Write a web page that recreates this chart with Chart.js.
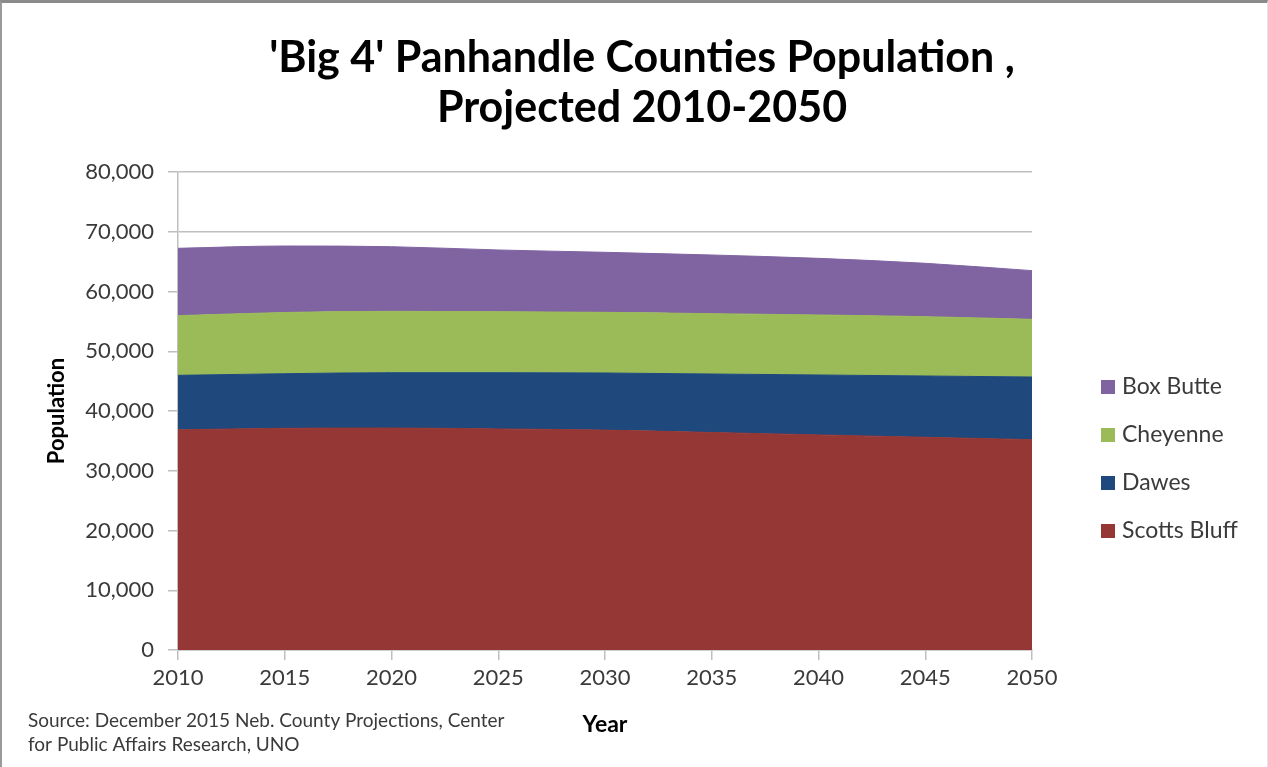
<!DOCTYPE html>
<html>
<head>
<meta charset="utf-8">
<script src="https://cdn.jsdelivr.net/npm/chart.js@4.4.1/dist/chart.umd.min.js"></script>
<style>
  html, body { margin: 0; padding: 0; background: #fff; }
  #frame {
    position: relative;
    width: 1268px;
    height: 767px;
    box-sizing: border-box;
    border-top: 3px solid #8a8a8a;
    border-left: 2px solid #9a9a9a;
    border-right: 1px solid #e4e4e4;
    overflow: hidden;
  }
  #popChart { position: absolute; left: -2px; top: -3px; }
</style>
</head>
<body>
<div id="frame">
  <canvas id="popChart" width="1268" height="767"></canvas>
</div>
<script>
// Projected population by county, 5-year steps
const years = ['2010', '2015', '2020', '2025', '2030', '2035', '2040', '2045', '2050'];
const scottsBluff = [36850, 37100, 37150, 37000, 36800, 36400, 36000, 35600, 35200];
const dawes = [9120, 9140, 9260, 9410, 9560, 9790, 10030, 10260, 10490];
const cheyenne = [9980, 10250, 10270, 10210, 10150, 10100, 10040, 9930, 9650];
const boxButte = [11280, 11125, 10820, 10330, 10050, 9820, 9480, 8930, 8150];

const titleLines = ["'Big 4' Panhandle Counties Population ,", 'Projected 2010-2050'];
const sourceLines = ['Source: December 2015 Neb. County Projections, Center', 'for Public Affairs Research, UNO'];

const FONT = 'Lato, "Open Sans", sans-serif';
const TEXT = '#3a3a3a';

const makeLayer = (label, data, color, fill) => ({
  label,
  data,
  backgroundColor: color,
  borderColor: color,
  borderWidth: 1,
  pointRadius: 0,
  fill,
  tension: 0.35,
  cubicInterpolationMode: 'monotone'
});

// title centred across the whole canvas (not just the plot)
const pageTitle = {
  id: 'pageTitle',
  afterDraw(chart) {
    const ctx = chart.ctx;
    ctx.save();
    ctx.font = 'bold 43px ' + FONT;
    ctx.fillStyle = '#000';
    ctx.textAlign = 'center';
    ctx.textBaseline = 'middle';
    titleLines.forEach((t, i) => ctx.fillText(t, 642, 58 + i * 50));
    ctx.restore();
  }
};

// legend on the right, top layer first
const sideLegend = {
  id: 'sideLegend',
  afterDraw(chart) {
    const ctx = chart.ctx;
    const items = chart.data.datasets.slice().reverse();
    ctx.save();
    ctx.font = '23px ' + FONT;
    ctx.textBaseline = 'middle';
    ctx.textAlign = 'left';
    items.forEach((ds, i) => {
      const y = 387 + i * 48;
      ctx.fillStyle = ds.backgroundColor;
      ctx.fillRect(1101, y - 7, 14, 14);
      ctx.fillStyle = TEXT;
      ctx.fillText(ds.label, 1122, y);
    });
    ctx.restore();
  }
};

// source note, bottom left
const sourceNote = {
  id: 'sourceNote',
  afterDraw(chart) {
    const ctx = chart.ctx;
    ctx.save();
    ctx.font = '19px ' + FONT;
    ctx.fillStyle = TEXT;
    ctx.textBaseline = 'middle';
    sourceLines.forEach((t, i) => ctx.fillText(t, 28, 721 + i * 24));
    ctx.restore();
  }
};

new Chart(document.getElementById('popChart'), {
  type: 'line',
  data: {
    labels: years,
    datasets: [
      makeLayer('Scotts Bluff', scottsBluff, '#953735', 'origin'),
      makeLayer('Dawes', dawes, '#1f497d', '-1'),
      makeLayer('Cheyenne', cheyenne, '#9bbb59', '-1'),
      makeLayer('Box Butte', boxButte, '#8064a2', '-1')
    ]
  },
  options: {
    responsive: false,
    animation: false,
    layout: { padding: { top: 172, left: 0, right: 236, bottom: 0 } },
    plugins: {
      legend: { display: false },
      tooltip: { enabled: false },
      title: { display: false }
    },
    scales: {
      x: {
        offset: false,
        grid: { display: true, drawOnChartArea: false, color: '#bfbfbf', lineWidth: 1.5, tickLength: 10 },
        border: { display: true, color: '#bfbfbf', width: 1.5 },
        ticks: { color: TEXT, font: { family: FONT, size: 22 }, padding: 5, maxRotation: 0 },
        title: {
          display: true,
          text: 'Year',
          color: '#000',
          font: { family: FONT, size: 23, weight: 'bold' },
          padding: { top: 2, bottom: 29 }
        },
        afterFit(scale) { scale.height = 117; }
      },
      y: {
        stacked: true,
        min: 0,
        max: 80000,
        grid: { color: '#bfbfbf', lineWidth: 1.5, tickLength: 10 },
        border: { display: true, color: '#bfbfbf', width: 1.5 },
        ticks: {
          stepSize: 10000,
          color: TEXT,
          font: { family: FONT, size: 22 },
          padding: 14,
          callback: v => v.toLocaleString('en-US')
        },
        title: {
          display: true,
          text: 'Population',
          color: '#000',
          font: { family: FONT, size: 22, weight: 'bold' },
          padding: { top: 44, bottom: 0 }
        },
        afterFit(scale) { scale.width = 178; }
      }
    }
  },
  plugins: [pageTitle, sideLegend, sourceNote]
});
</script>
</body>
</html>
